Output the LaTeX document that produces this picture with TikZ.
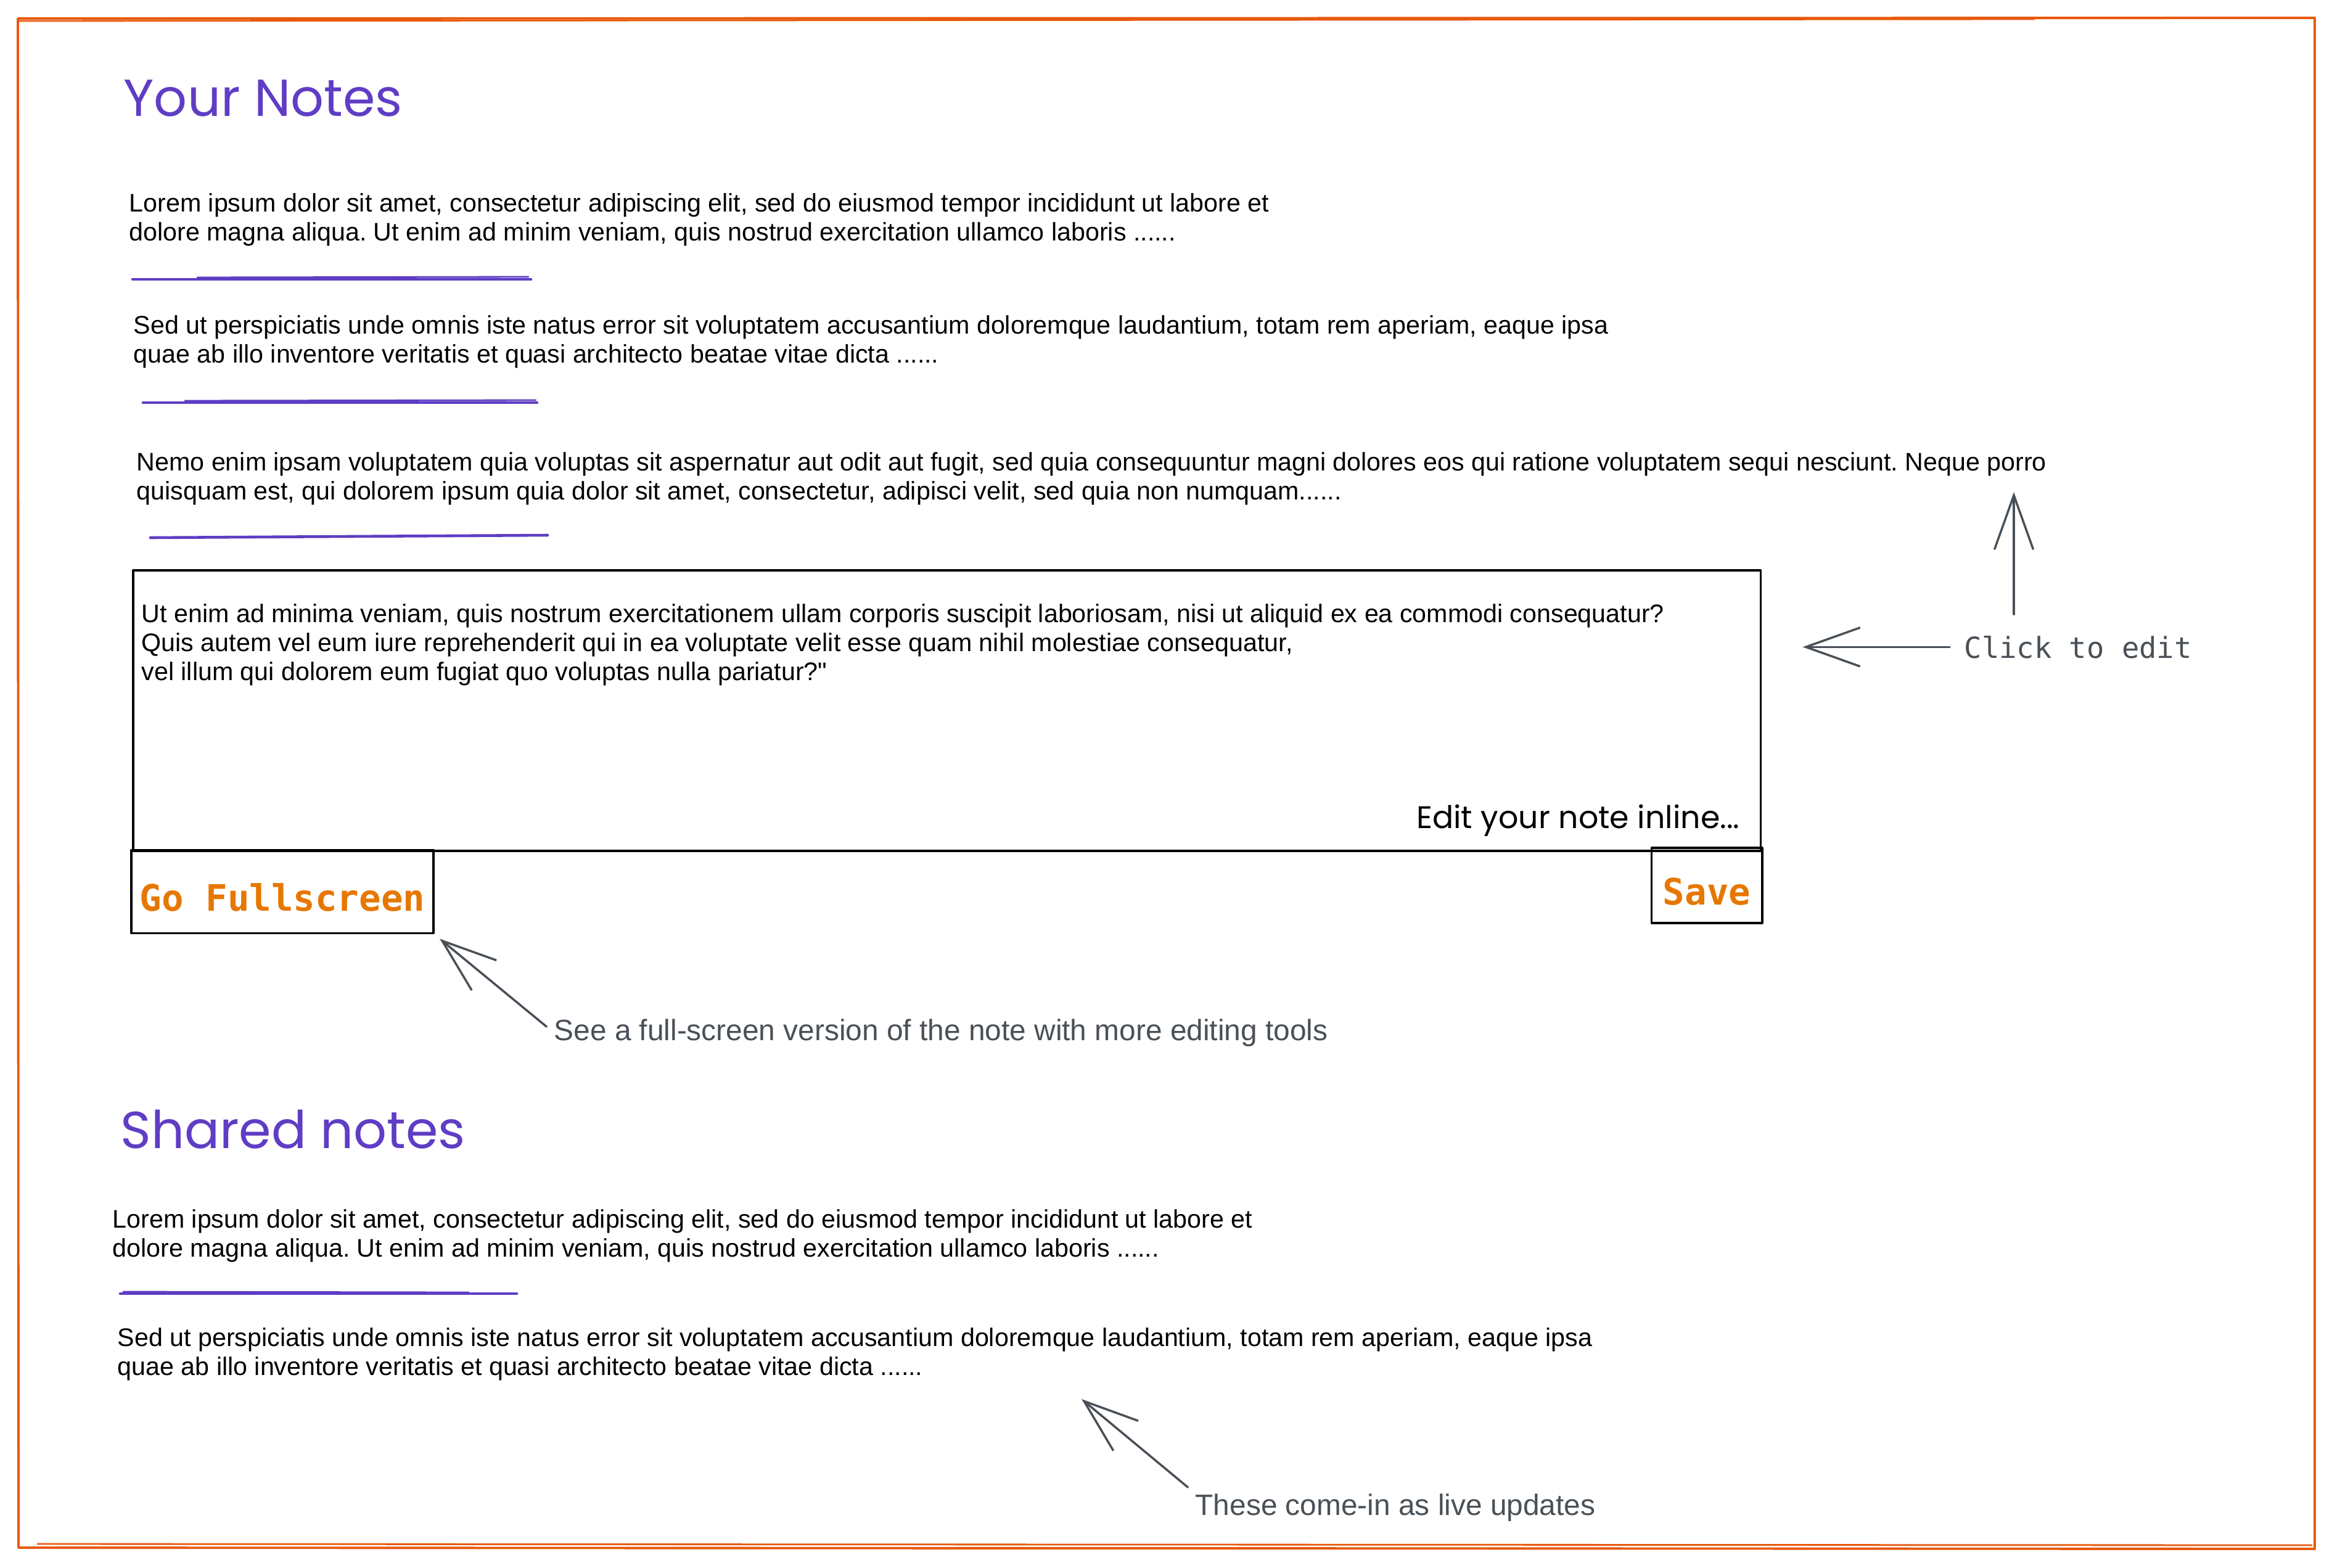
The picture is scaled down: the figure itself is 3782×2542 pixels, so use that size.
\documentclass[tikz,border=0pt]{standalone}
\usepackage{fontspec}
\usepackage{tikz}
\usetikzlibrary{arrows.meta}
\setmainfont{Liberation Sans}
\newfontfamily\handfont{Poppins}
\newfontfamily\codefont{DejaVu Sans Mono}
\frenchspacing
\definecolor{frameorange}{HTML}{E8590C}
\definecolor{btnorange}{HTML}{E67700}
\definecolor{notepurple}{HTML}{5F3DC4}
\definecolor{notegray}{HTML}{495057}
\tikzset{
  heading/.style={anchor=base west,inner sep=0pt,text=notepurple,font=\handfont\fontsize{24}{28}\selectfont},
  para/.style={anchor=north west,inner sep=0pt,align=left,font=\fontsize{11.72}{13.37}\selectfont},
  hint/.style={anchor=base west,inner sep=0pt,text=notegray,font=\fontsize{13.6}{16}\selectfont},
  button/.style={draw,line width=1.1pt,inner sep=0pt,text height=0.62cm,text depth=0pt,text=btnorange,font=\codefont\bfseries\fontsize{16.8}{20}\selectfont},
  underline/.style={notepurple,line width=1.3pt,line cap=round},
  arr/.style={->,notegray,line width=1pt,line cap=round,line join=round},
}
\begin{document}
\begin{tikzpicture}[x=0.01cm,y=-0.01cm,line join=round,>={Straight Barb[length=0.88cm,width=0.63cm]}]
\useasboundingbox (0,0) rectangle (3782,2542);
% frame
\draw[frameorange,line width=1.1pt] (29,30) -- (3754,29) -- (3754,2512) -- (30,2510) -- cycle;
\draw[frameorange,line width=0.8pt] (31,34) -- (3300,31);
\draw[frameorange,line width=0.8pt] (60,2504) -- (3750,2506);

% your notes
\node[heading] (yours) at (200,188) {Your Notes};
\node[para] (note1) at (209,313) {Lorem ipsum dolor sit amet, consectetur adipiscing elit, sed do eiusmod tempor incididunt ut labore et\\dolore magna aliqua. Ut enim ad minim veniam, quis nostrud exercitation ullamco laboris ......};
\draw[underline] (215,453) -- (861,453);
\draw[underline,line width=0.8pt] (320,450) -- (857,449);
\node[para] (note2) at (216,511) {Sed ut perspiciatis unde omnis iste natus error sit voluptatem accusantium doloremque laudantium, totam rem aperiam, eaque ipsa\\quae ab illo inventore veritatis et quasi architecto beatae vitae dicta ......};
\draw[underline] (232,653) -- (871,653);
\draw[underline,line width=0.8pt] (300,650) -- (869,649);
\node[para] (note3) at (221,733) {Nemo enim ipsam voluptatem quia voluptas sit aspernatur aut odit aut fugit, sed quia consequuntur magni dolores eos qui ratione voluptatem sequi nesciunt. Neque porro\\quisquam est, qui dolorem ipsum quia dolor sit amet, consectetur, adipisci velit, sed quia non numquam......};
\draw[underline] (244,872) -- (888,868);

% inline editor
\node[draw,line width=1.1pt,inner sep=0pt,anchor=north west,minimum width=26.38cm,minimum height=4.55cm] (editor) at (214,923) {};
\node[para] (edittext) at (229,979) {Ut enim ad minima veniam, quis nostrum exercitationem ullam corporis suscipit laboriosam, nisi ut aliquid ex ea commodi consequatur?\\Quis autem vel eum iure reprehenderit qui in ea voluptate velit esse quam nihil molestiae consequatur,\\vel illum qui dolorem eum fugiat quo voluptas nulla pariatur?\textquotedbl};
\node[anchor=base east,inner sep=0pt,font=\handfont\fontsize{14.4}{18}\selectfont] (inline) at (2822,1343) {Edit your note inline...};
\node[button,minimum width=4.89cm,minimum height=1.35cm] (fullscreen) at (458,1446) {Go Fullscreen};
\node[button,minimum width=1.79cm,minimum height=1.22cm] (save) at (2768,1436) {Save};

% hints
\node[hint,font=\codefont\fontsize{13.4}{16}\selectfont] (click) at (3185,1067) {Click to edit};
\coordinate (upTip) at (3266,798);
\draw[arr,shorten <=0.34cm] (click.north -| upTip) -- (upTip);
\draw[arr,shorten <=0.23cm,shorten >=0.66cm] (click.west) -- (editor.east |- click.west);
\node[hint] (seefull) at (898,1687) {See a full-screen version of the note with more editing tools};
\draw[arr,shorten <=0.15cm,shorten >=0.11cm] (seefull.west) -- (fullscreen.south east);

% shared notes
\node[heading] (shared) at (195,1862) {Shared notes};
\node[para] (shared1) at (182,1961) {Lorem ipsum dolor sit amet, consectetur adipiscing elit, sed do eiusmod tempor incididunt ut labore et\\dolore magna aliqua. Ut enim ad minim veniam, quis nostrud exercitation ullamco laboris ......};
\draw[underline] (195,2098) -- (838,2098);
\draw[underline,line width=0.8pt] (200,2095) -- (760,2096);
\node[para] (shared2) at (190,2153) {Sed ut perspiciatis unde omnis iste natus error sit voluptatem accusantium doloremque laudantium, totam rem aperiam, eaque ipsa\\quae ab illo inventore veritatis et quasi architecto beatae vitae dicta ......};
\node[hint] (live) at (1938,2457) {These come-in as live updates};
\coordinate (liveTip) at (1754,2269);
\draw[arr,shorten <=0.15cm] (live.north west) -- (liveTip);
\end{tikzpicture}
\end{document}
